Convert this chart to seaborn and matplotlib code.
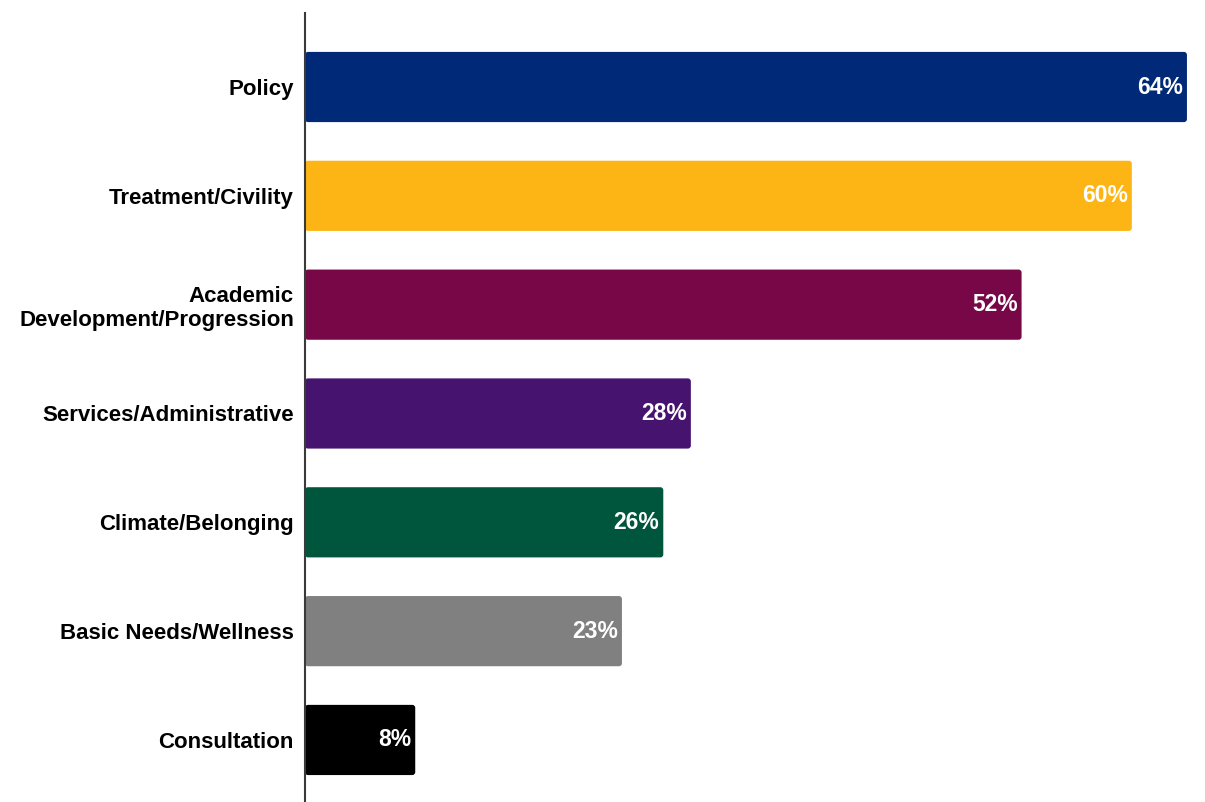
import matplotlib
matplotlib.use("Agg")
import matplotlib.pyplot as plt
from matplotlib.patches import FancyBboxPatch
import seaborn as sns
import pandas as pd

categories = [
    "Policy",
    "Treatment/Civility",
    "Academic\nDevelopment/Progression",
    "Services/Administrative",
    "Climate/Belonging",
    "Basic Needs/Wellness",
    "Consultation",
]
percentages = [64, 60, 52, 28, 26, 23, 8]
bar_colors = ["#002A77", "#FDB515", "#770747", "#46136F", "#00553D", "#808080", "#000000"]

sns.set_theme(style="white")
plt.rcParams["font.family"] = ["Liberation Sans", "DejaVu Sans"]

df = pd.DataFrame({"category": categories, "pct": percentages})

fig = plt.figure(figsize=(12.05, 8.02), dpi=100)
ax = fig.add_axes([305 / 1205, 0.0, 900 / 1205, (802 - 13) / 802])

sns.barplot(data=df, x="pct", y="category", hue="category", palette=bar_colors,
            legend=False, width=0.645, ax=ax, saturation=1)

ax.set_xlim(0, 65.31)
ax.set_ylim(6.57, -0.68)

# Swap the plain rectangles for ones with slightly rounded corners
px_x = 900 / 65.31          # pixels per x unit
px_y = 789 / (6.57 + 0.68)  # pixels per y unit
for patch in list(ax.patches):
    x0, y0 = patch.get_x(), patch.get_y()
    w, h = patch.get_width(), patch.get_height()
    color = patch.get_facecolor()
    patch.remove()
    r = 3 / px_x
    rounded = FancyBboxPatch((x0, y0), w, h,
                             boxstyle=f"round,pad=0,rounding_size={r}",
                             mutation_aspect=px_x / px_y,
                             facecolor=color, edgecolor="none", zorder=2)
    ax.add_patch(rounded)

for i, v in enumerate(percentages):
    ax.text(v - 4 / px_x, i, f"{v}%", ha="right", va="center",
            color="white", fontsize=16.5, fontweight="bold", zorder=3)

ax.set_xlabel("")
ax.set_ylabel("")
ax.set_xticks([])
ax.tick_params(axis="y", length=0, pad=8)
for lbl in ax.get_yticklabels():
    lbl.set_fontsize(16)
    lbl.set_fontweight("bold")
    lbl.set_color("black")
    lbl.set_multialignment("right")

for side in ["top", "right", "bottom"]:
    ax.spines[side].set_visible(False)
ax.spines["left"].set_color("#3a3a3a")
ax.spines["left"].set_linewidth(1.5)
ax.spines["left"].set_zorder(4)

fig.savefig("out.png", dpi=100)
